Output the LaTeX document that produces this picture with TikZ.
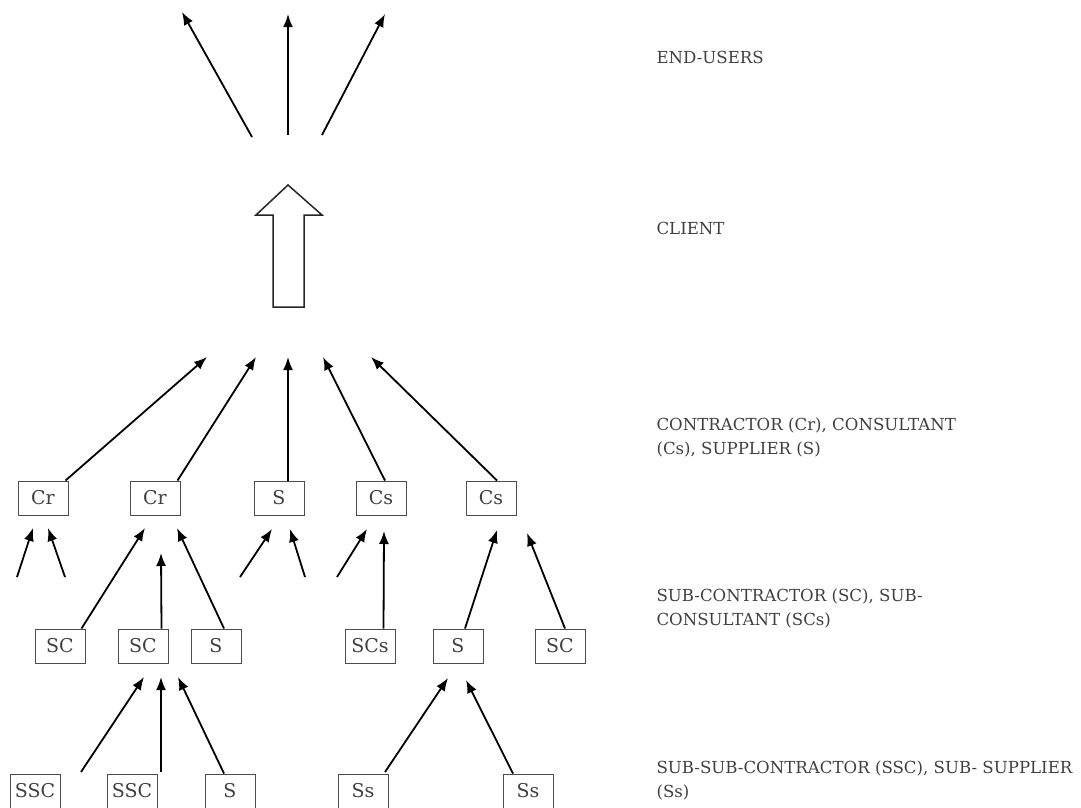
\documentclass[tikz,border=0pt]{standalone}
\usepackage{fontspec}
\setmainfont{DejaVu Serif}
\usetikzlibrary{arrows.meta}
\begin{document}
\begin{tikzpicture}[x=1pt, y=-1pt,
    box/.style={rectangle, draw=black!70, line width=1pt, minimum width=50pt, minimum height=34pt, inner sep=0pt, text=black!75, font=\fontsize{19}{22}\selectfont},
    tier/.style={anchor=west, align=left, text=black!75, font=\fontsize{16.6}{24}\selectfont},
    edge/.style={-{Latex[length=13pt,width=10pt]}, line width=1.8pt}]
    \useasboundingbox (0,0) rectangle (1081,807);

    % Level labels
    \node (endusers) [tier] at (653,57) {END-USERS};
    \node (client) [tier] at (653,228) {CLIENT};
    \node (contr) [tier] at (653,437) {CONTRACTOR (Cr), CONSULTANT\\(Cs), SUPPLIER (S)};
    \node (subcontr) [tier] at (653,608) {SUB-CONTRACTOR (SC), SUB-\\CONSULTANT (SCs)};
    \node (subsub) [tier] at (653,780) {SUB-SUB-CONTRACTOR (SSC), SUB- SUPPLIER\\(Ss)};

    % Nodes
    \node (cr1) [box] at (43,498) {Cr};
    \node (cr2) [box] at (155,498) {Cr};
    \node (s1) [box] at (279,498) {S};
    \node (cs1) [box] at (381,498) {Cs};
    \node (cs2) [box] at (491,498) {Cs};

    \node (sc1) [box] at (60,646) {SC};
    \node (sc2) [box] at (143,646) {SC};
    \node (s2) [box] at (216,646) {S};
    \node (scs) [box] at (370,646) {SCs};
    \node (s3) [box] at (458,646) {S};
    \node (sc3) [box] at (560,646) {SC};

    \node (ssc1) [box] at (35,791) {SSC};
    \node (ssc2) [box] at (132,791) {SSC};
    \node (s4) [box] at (230,791) {S};
    \node (ss1) [box] at (363,791) {Ss};
    \node (ss2) [box] at (528,791) {Ss};

    % Client (hollow arrow)
    \draw[line width=1.5pt, draw=black!85] (273,307) -- (273,215) -- (256,215) -- (288,185)
        -- (322,215) -- (304,215) -- (304,307) -- cycle;

    % Free ends
    \coordinate (u1) at (182,12);
    \coordinate (u2) at (288,14);
    \coordinate (u3) at (385,14);
    \coordinate (v1) at (252,137);
    \coordinate (v2) at (288,135);
    \coordinate (v3) at (322,135);

    \coordinate (c1) at (207,357);
    \coordinate (c2) at (256,357);
    \coordinate (c3) at (288,357);
    \coordinate (c4) at (323,357);
    \coordinate (c5) at (371,357);

    \coordinate (a1) at (17,577);
    \coordinate (a2) at (33,528);
    \coordinate (a3) at (65,577);
    \coordinate (a4) at (48,528);
    \coordinate (a5) at (145,528);
    \coordinate (a6) at (161,553);
    \coordinate (a7) at (177,528);
    \coordinate (a8) at (240,577);
    \coordinate (a9) at (272,529);
    \coordinate (a10) at (305,577);
    \coordinate (a11) at (290,529);
    \coordinate (a12) at (337,577);
    \coordinate (a13) at (367,529);
    \coordinate (a14) at (384,531);
    \coordinate (a15) at (497,530);
    \coordinate (a16) at (527,533);

    \coordinate (b1) at (81,772);
    \coordinate (b2) at (144,677);
    \coordinate (b3) at (161,772);
    \coordinate (b4) at (161,677);
    \coordinate (b5) at (178,677);
    \coordinate (b6) at (385,772);
    \coordinate (b7) at (448,678);
    \coordinate (b8) at (466,680);

    % Edges
    \draw[edge] (v1) -- (u1);
    \draw[edge] (v2) -- (u2);
    \draw[edge] (v3) -- (u3);

    \draw[edge] ([xshift=-3pt]cr1.north east) -- (c1);
    \draw[edge] ([xshift=-3pt]cr2.north east) -- (c2);
    \draw[edge] ([xshift=9pt]s1.north) -- (c3);
    \draw[edge] ([xshift=4pt]cs1.north) -- (c4);
    \draw[edge] ([xshift=6pt]cs2.north) -- (c5);

    \draw[edge] (a1) -- (a2);
    \draw[edge] (a3) -- (a4);
    \draw[edge] ([xshift=-4pt]sc1.north east) -- (a5);
    \draw[edge] ([xshift=-7pt]sc2.north east) -- (a6);
    \draw[edge] ([xshift=8pt]s2.north) -- (a7);
    \draw[edge] (a8) -- (a9);
    \draw[edge] (a10) -- (a11);
    \draw[edge] (a12) -- (a13);
    \draw[edge] ([xshift=-12pt]scs.north east) -- (a14);
    \draw[edge] ([xshift=7pt]s3.north) -- (a15);
    \draw[edge] ([xshift=5pt]sc3.north) -- (a16);

    \draw[edge] (b1) -- (b2);
    \draw[edge] (b3) -- (b4);
    \draw[edge] ([xshift=-6pt]s4.north) -- (b5);
    \draw[edge] (b6) -- (b7);
    \draw[edge] ([xshift=-15pt]ss2.north) -- (b8);

\end{tikzpicture}
\end{document}
